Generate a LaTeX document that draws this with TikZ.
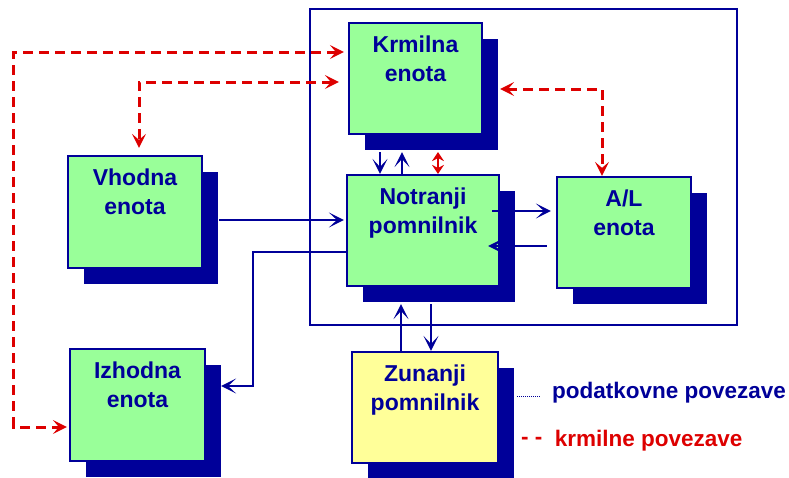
\documentclass[tikz,border=0pt]{standalone}
\usepackage{fontspec}
\setmainfont{Liberation Sans}
\usetikzlibrary{arrows.meta,calc,shadows}
\definecolor{navy}{RGB}{0,0,153}
\definecolor{unitgreen}{RGB}{153,255,153}
\definecolor{unityellow}{RGB}{255,255,153}
\definecolor{ctrlred}{RGB}{221,0,0}
% two-line caption set at the top of a unit box
\newcommand{\unittext}[1]{\parbox[t][86pt][t]{120pt}{\centering #1}}

\begin{document}
\begin{tikzpicture}[x=1pt,y=-1pt,
  unit/.style={draw=navy, line width=2.2pt, fill=unitgreen, inner sep=0pt,
    general shadow={fill=navy, shadow xshift=16pt, shadow yshift=-16pt},
    font=\fontsize{23}{29}\selectfont\bfseries, text=navy},
  frame/.style={draw=navy, line width=2.4pt, inner sep=0pt},
  data/.style={navy, line width=2.5pt, -{Stealth[length=15pt,width=15pt,inset=8pt]}},
  ctrl/.style={ctrlred, line width=3pt, dash pattern=on 10pt off 6pt,
    {Stealth[length=14pt,width=14pt,inset=6pt]}-{Stealth[length=14pt,width=14pt,inset=6pt]}},
  ctrlshort/.style={ctrlred, line width=2.5pt,
    {Stealth[length=9pt,width=12pt,inset=3pt]}-{Stealth[length=9pt,width=12pt,inset=3pt]}},
  legend/.style={font=\fontsize{22.5}{27}\selectfont\bfseries, inner sep=0pt, anchor=base west}]

\useasboundingbox (0,0) rectangle (789,477);

% processor frame
\node (frame) [frame, minimum width=427pt, minimum height=316pt] at (523.5,167) {};

% units
\node (k)  [unit, minimum width=133pt, minimum height=111pt] at (415.5,78.5) {\unittext{Krmilna\\enota}};
\node (n)  [unit, minimum width=152pt, minimum height=111pt] at (423,230.5)  {\unittext{Notranji\\pomnilnik}};
\node (al) [unit, minimum width=134pt, minimum height=111pt] at (624,232.5)  {\unittext{A/L\\enota}};
\node (v)  [unit, minimum width=134pt, minimum height=112pt] at (135,212)    {\unittext{Vhodna\\enota}};
\node (iz) [unit, minimum width=135pt, minimum height=112pt] at (137.5,405)  {\unittext{Izhodna\\enota}};
\node (z)  [unit, fill=unityellow, minimum width=146pt, minimum height=111pt] at (425,407.5) {\unittext{Zunanji\\pomnilnik}};

% data connections
\draw[data] ($(v.east)+(16,8)$) -- ($(n.west)+(-2,-10.5)$);
\draw[data] ($(n.west)+(0,21.5)$) -- ++(-93,0) |- ($(iz.east)+(15,-19)$);
\draw[data] ($(k.south)+(-35.5,17)$) -- ($(n.north)+(-43,0)$);
\draw[data] ($(n.north)+(-21,0)$) -- ($(k.south)+(-13.5,17)$);
\draw[data] ($(n.east)+(-8,-19.5)$) -- ($(al.west)+(-5,-21.5)$);
\draw[data] ($(al.west)+(-9,13.5)$) -- ($(n.east)+(-12,15.5)$);
\draw[data] ($(z.north)+(-24,0)$) -- ($(n.south)+(-22,17)$);
\draw[data] ($(n.south)+(8,17)$) -- ($(z.north)+(6,0)$);

% control connections
\draw[ctrlshort] ($(n.north)+(15,0)$) -- ($(k.south)+(22.5,17)$);
\draw[ctrl] ($(k.east)+(17,10.5)$) -| ($(al.north)+(-22,0)$);
\draw[ctrl] ($(k.west)+(-4,-26.5)$) -- ++(-330,0) |- ($(iz.west)+(-2,22)$);
\draw[ctrl] ($(k.west)+(-9,3.5)$) -| ($(v.north)+(4,-7)$);

% legend
\node (leg1) [legend, text=navy] at (552,398) {podatkovne povezave};
\coordinate (d1) at ($(leg1.base west)+(-35,-2)$);
\coordinate (d2) at ($(leg1.base west)+(-12,-2)$);
\draw[navy, line width=0.8pt, dash pattern=on 1pt off 1pt] (d1) -- (d2);
\node (leg2) [legend, text=ctrlred] at (521,446.5) {\raisebox{2pt}{-}\ \raisebox{2pt}{-}\ \ krmilne povezave};
\end{tikzpicture}
\end{document}
